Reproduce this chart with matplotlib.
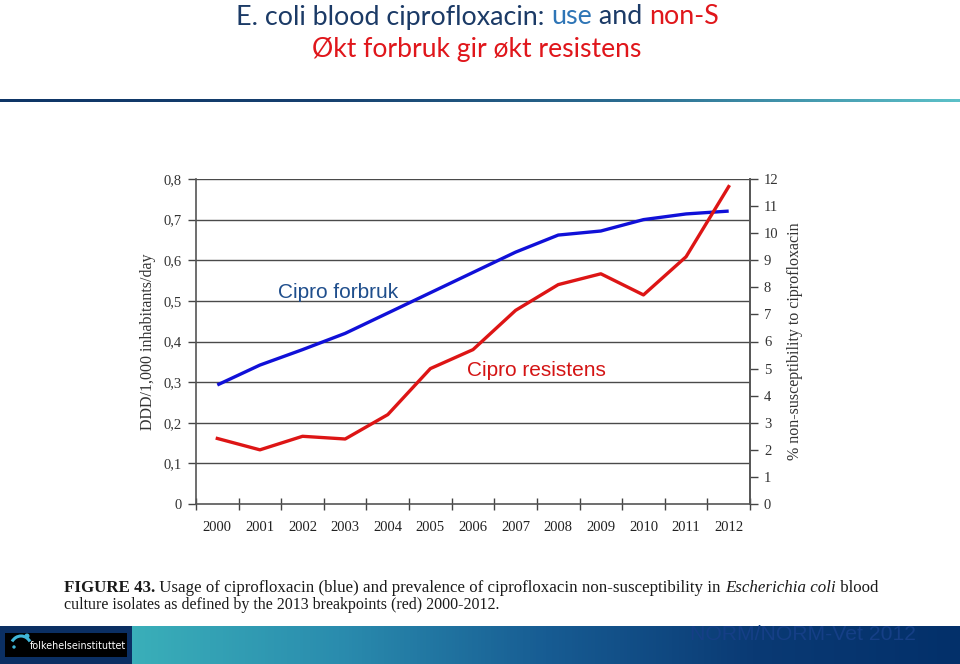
import matplotlib
matplotlib.use("Agg")
import matplotlib.pyplot as plt
import numpy as np
from matplotlib.colors import LinearSegmentedColormap
from matplotlib.patches import Arc, Circle

years = ["2000", "2001", "2002", "2003", "2004", "2005", "2006",
         "2007", "2008", "2009", "2010", "2011", "2012"]
usage_ddd = [0.293, 0.342, 0.38, 0.42, 0.47, 0.52, 0.57,
             0.62, 0.662, 0.672, 0.70, 0.714, 0.721]
nonsusc_pct = [2.42, 2.0, 2.5, 2.4, 3.3, 5.0, 5.7,
               7.15, 8.1, 8.5, 7.72, 9.13, 11.72]
left_ticks = [0, 0.1, 0.2, 0.3, 0.4, 0.5, 0.6, 0.7, 0.8]
left_labels = ["0", "0,1", "0,2", "0,3", "0,4", "0,5", "0,6", "0,7", "0,8"]
right_ticks = list(range(0, 13))

W, H = 960, 664
fig = plt.figure(figsize=(9.6, 6.64), dpi=100)
fig.patch.set_facecolor("white")

def fx(px):
    return px / W

def fy(py):
    return 1 - py / H

# ---------- main chart ----------
ax = fig.add_axes([fx(196), fy(504), 554 / W, 325 / H])
x = np.arange(len(years))
ax.plot(x, usage_ddd, color="#1010D8", lw=2.4, solid_capstyle="butt", zorder=3)
ax.set_xlim(-0.5, len(years) - 0.5)
ax.set_ylim(0, 0.8)
for t in left_ticks[1:]:
    ax.axhline(t, color="#4a4a4a", lw=1.0, zorder=1)
ax.set_yticks(left_ticks)
ax.set_yticklabels(left_labels, family="Liberation Serif", fontsize=10.5, color="#333333")
ax.set_xticks(x)
ax.set_xticklabels(years, family="Liberation Serif", fontsize=10.5, color="#222222")
ax.tick_params(axis="x", which="major", length=0, pad=12)
ax.set_xticks(np.arange(-0.5, len(years)), minor=True)
ax.tick_params(axis="x", which="minor", direction="inout", length=8, width=1.0, color="#444444")
ax.tick_params(axis="y", direction="out", length=6, width=1.0, color="#444444", pad=4)
ax.spines["top"].set_visible(False)
for s in ["left", "bottom", "right"]:
    ax.spines[s].set_color("#555555")
    ax.spines[s].set_linewidth(1.2)
ax.set_ylabel("DDD/1,000 inhabitants/day", family="Liberation Serif", fontsize=11.5,
              color="#333333", labelpad=6)

ax2 = ax.twinx()
ax2.plot(x, nonsusc_pct, color="#DD1515", lw=2.4, zorder=3)
ax2.set_ylim(0, 12)
ax2.set_yticks(right_ticks)
ax2.set_yticklabels([str(t) for t in right_ticks], family="Liberation Serif",
                    fontsize=10.5, color="#333333")
ax2.tick_params(axis="y", direction="out", length=6, width=1.0, color="#444444", pad=4)
for s in ["top", "left", "bottom"]:
    ax2.spines[s].set_visible(False)
ax2.spines["right"].set_color("#555555")
ax2.spines["right"].set_linewidth(1.2)
ax2.set_ylabel("% non-susceptibility to ciprofloxacin", family="Liberation Serif",
               fontsize=11.5, color="#333333", labelpad=6)

fig.text(fx(278), fy(293), "Cipro forbruk", family="Liberation Sans", fontsize=15,
         color="#1F4E8C", ha="left", va="center")
fig.text(fx(467), fy(371), "Cipro resistens", family="Liberation Sans", fontsize=15,
         color="#D41414", ha="left", va="center")

# ---------- title ----------
canvas = fig.canvas
renderer = canvas.get_renderer()

def pieces(parts, y, x_center=None, x_left=None, target_width=None, base_size=18, family="Lato"):
    def draw(size, x0):
        objs = []
        cx = x0
        for txt, col, wt, st in parts:
            t = fig.text(fx(cx), fy(y), txt, fontsize=size, color=col, weight=wt,
                         style=st, family=family, ha="left", va="center")
            bb = t.get_window_extent(renderer=renderer)
            cx += bb.width
            objs.append(t)
        return objs, cx - x0
    objs, w = draw(base_size, 0)
    for o in objs:
        o.remove()
    size = base_size
    if target_width:
        size = base_size * target_width / w
        objs, w = draw(size, 0)
        for o in objs:
            o.remove()
    x0 = x_left if x_left is not None else x_center - w / 2
    draw(size, x0)

navy = "#1B3A66"
pieces([("E. coli blood ciprofloxacin: ", navy, "normal", "normal"),
        ("use", "#2E75B6", "normal", "normal"),
        (" and ", navy, "normal", "normal"),
        ("non-S", "#E0161B", "normal", "normal")],
       y=17, x_center=477, target_width=483)
pieces([("Økt forbruk gir økt resistens", "#E0161B", "normal", "normal")],
       y=49, x_center=477, target_width=328)

# gradient line under the title
lax = fig.add_axes([0, fy(102), 1, 3 / H])
cm_line = LinearSegmentedColormap.from_list("l", ["#0E3566", "#16406F", "#2C6E92", "#5CC0C8"])
lax.imshow(np.linspace(0, 1, 256)[None, :], aspect="auto", cmap=cm_line, extent=[0, 1, 0, 1])
lax.axis("off")

# ---------- caption ----------
pieces([("FIGURE 43.", "#1a1a1a", "bold", "normal"),
        (" Usage of ciprofloxacin (blue) and prevalence of ciprofloxacin non-susceptibility in ",
         "#1a1a1a", "normal", "normal"),
        ("Escherichia coli", "#1a1a1a", "normal", "italic"),
        (" blood", "#1a1a1a", "normal", "normal")],
       y=588, x_left=64, target_width=815, family="Liberation Serif", base_size=11)
pieces([("culture isolates as defined by the 2013 breakpoints (red) 2000-2012.",
         "#1a1a1a", "normal", "normal")],
       y=605, x_left=64, target_width=438, family="Liberation Serif", base_size=11)

# ---------- bottom banner ----------
bax = fig.add_axes([fx(132), 0, 1 - fx(132), 38 / H])
cm_ban = LinearSegmentedColormap.from_list("b", ["#3AAFB9", "#2A8CAE", "#175C93", "#0A3A74", "#03306A"])
bax.imshow(np.linspace(0, 1, 256)[None, :], aspect="auto", cmap=cm_ban, extent=[0, 1, 0, 1])
bax.axis("off")
lb = fig.add_axes([0, 0, fx(132), 38 / H])
lb.set_facecolor("#0B2F63")
lb.set_xticks([]); lb.set_yticks([])
for s in lb.spines.values():
    s.set_visible(False)
logo = fig.add_axes([fx(5), fy(657), 122 / W, 24 / H])
logo.set_facecolor("black")
logo.set_xlim(0, 122); logo.set_ylim(0, 24)
logo.set_xticks([]); logo.set_yticks([])
for s in logo.spines.values():
    s.set_visible(False)
logo.add_patch(Arc((16, 8), 22, 26, theta1=40, theta2=140, color="#3FB6D8", lw=2.2))
logo.add_patch(Circle((22, 21), 1.8, color="#3FB6D8"))
logo.add_patch(Circle((9, 10), 1.0, color="#3FB6D8"))
fig.text(fx(30), fy(646), "folkehelseinstituttet", family="DejaVu Sans", fontsize=6.9,
         color="white", ha="left", va="center")
fig.text(fx(690), fy(635), "NORM/NORM-Vet 2012", family="Liberation Sans", fontsize=15.2,
         color="#153F86", ha="left", va="center")

fig.savefig("out.png", dpi=100, facecolor="white")
